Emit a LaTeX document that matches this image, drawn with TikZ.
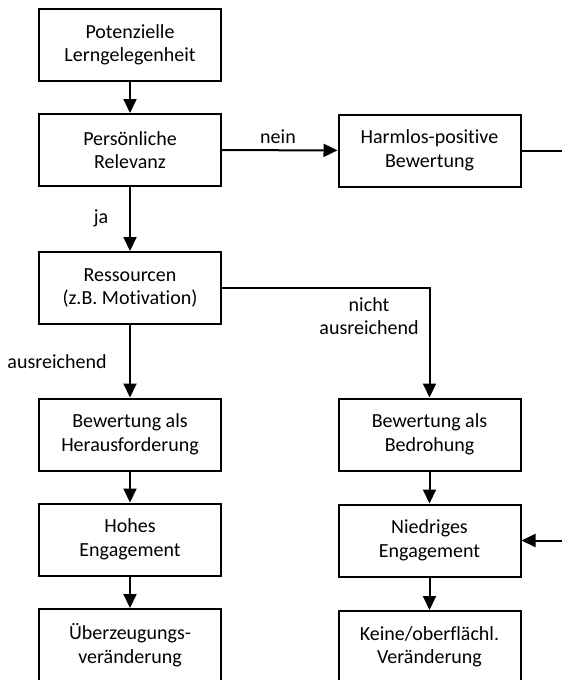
\documentclass[tikz,border=0pt]{standalone}
\usepackage{fontspec}
\setmainfont{Carlito}[Ligatures={NoCommon}]
\usetikzlibrary{arrows.meta}
\begin{document}
\begin{tikzpicture}[x=1pt,y=-1pt,
  box/.style={draw, line width=2pt, minimum width=182pt, minimum height=72pt,
    align=center, inner sep=0pt, font=\fontsize{20}{23.5}\selectfont},
  lbl/.style={align=center, inner sep=0pt, font=\fontsize{20}{23.5}\selectfont},
  flow/.style={line width=2pt, -{Triangle[width=13pt,length=14pt]}},
  plain/.style={line width=2pt}]
\useasboundingbox (0,0) rectangle (562,680);
\clip (0,0) rectangle (562,680);

% decision chain, left column
\node[box] (pot) at (130,45)    {Potenzielle\\Lerngelegenheit};
\node[box] (rel) at (130,150)   {Persönliche\\Relevanz};
\node[box] (res) at (130,288)   {Ressourcen\\(z.B. Motivation)};
\node[box] (her) at (130,434.5) {Bewertung als\\Herausforderung};
\node[box] (hoh) at (130,539.5) {Hohes\\Engagement};
\node[box] (ueb) at (130,645)   {Überzeugungs-\\veränderung};

% right column
\node[box] (harm) at (429.5,150.5) {Harmlos-positive\\Bewertung};
\node[box] (bed)  at (429.5,434.5) {Bewertung als\\Bedrohung};
\node[box] (nie)  at (429.5,540.5) {Niedriges\\Engagement};
\node[box] (kei)  at (429.5,647)   {Keine/oberflächl.\\Veränderung};

% branch labels
\node[lbl] (lnein) at (278,137) {nein};
\node[lbl] (lja)   at (101,218) {ja};
\node[lbl] (lnicht) at (369,316) {nicht\\ausreichend};
\node[lbl] (laus)  at (57,362) {ausreichend};

% connectors
\coordinate (harmout) at (562,150.5);
\coordinate (niein)   at (562,540.5);
\draw[flow] (pot) -- (rel);
\draw[flow] (rel) -- (harm);
\draw[plain] (harm) -- (harmout);
\draw[flow] (rel) -- (res);
\draw[flow] (res.east) -| (bed.north);
\draw[flow] (res) -- (her);
\draw[flow] (her) -- (hoh);
\draw[flow] (hoh) -- (ueb);
\draw[flow] (bed) -- (nie);
\draw[flow] (nie) -- (kei);
\draw[flow] (niein) -- (nie);
\end{tikzpicture}
\end{document}
